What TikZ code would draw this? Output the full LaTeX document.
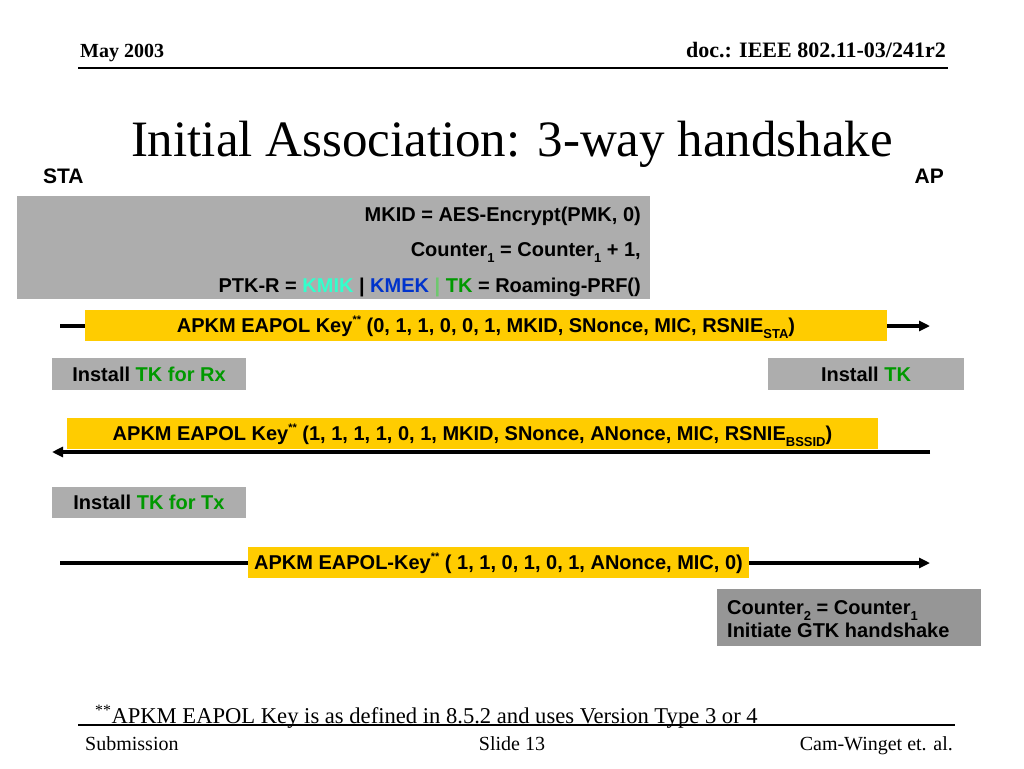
\documentclass[tikz,border=0pt]{standalone}
\usepackage{fontspec}
\setmainfont{Liberation Serif}
\newfontfamily\arialf{Liberation Sans}
\usetikzlibrary{arrows.meta}
\definecolor{boxgray}{RGB}{173,173,173}
\definecolor{darkbox}{RGB}{150,150,150}
\definecolor{gold}{RGB}{255,204,0}
\definecolor{kmik}{RGB}{51,255,204}
\definecolor{kmek}{RGB}{0,51,204}
\definecolor{tkgreen}{RGB}{0,153,0}
\definecolor{sepgreen}{RGB}{110,200,110}
\newcommand{\lowtxt}[1]{\raisebox{-0.3em}{\fontsize{13}{13}\selectfont #1}}
\newcommand{\hightxt}[1]{\raisebox{0.45em}{\fontsize{11}{11}\selectfont #1}}
\tikzset{
  body/.style={font=\arialf\bfseries\fontsize{20}{22}\selectfont, inner sep=0pt},
  goldbox/.style={body, fill=gold, text height=14pt, text depth=0pt},
  graybox/.style={body, fill=boxgray, text height=14pt, text depth=0pt},
  darkgraybox/.style={fill=darkbox, inner sep=0pt},
  msg/.style={line width=3.2pt, -{Triangle[length=11pt,width=10pt]}},
  serifbold/.style={font=\bfseries\fontsize{20}{22}\selectfont, inner sep=0pt},
  footer/.style={font=\fontsize{20}{22}\selectfont, inner sep=0pt},
  rule/.style={line width=1.6pt},
}
\begin{document}
\begin{tikzpicture}[x=1pt,y=-1pt]
\useasboundingbox[fill=white] (0,0) rectangle (1024,768);
% header
\node[serifbold, anchor=base west] (date) at (80,58) {May 2003};
\node[serifbold, font=\bfseries\fontsize{22}{24}\selectfont, anchor=base east] (doc) at (946,58) {doc.: IEEE 802.11-03/241r2};
\coordinate (hl) at (78,68);
\coordinate (hr) at (948,68);
\draw[rule] (hl) -- (hr);
% title
\node[font=\fontsize{51}{56}\selectfont, anchor=base, inner sep=0pt] (title) at (512,156) {Initial Association: 3-way handshake};
\node[body, font=\arialf\bfseries\fontsize{21}{24}\selectfont, anchor=base west] (sta) at (43,183) {STA};
\node[body, font=\arialf\bfseries\fontsize{21}{24}\selectfont, anchor=base east] (ap) at (944,183) {AP};
% computation box
\node[fill=boxgray, minimum width=633pt, minimum height=103pt, inner sep=0pt] (calc) at (333.5,247.5) {};
\node[body, anchor=base east] (l1) at (641,221) {MKID = AES-Encrypt(PMK, 0)};
\node[body, anchor=base east] (l2) at (641,256) {Counter\lowtxt{1} = Counter\lowtxt{1} + 1,};
\node[body, anchor=base east] (l3) at (641,292) {PTK-R = \textcolor{kmik}{KMIK} | \textcolor{kmek}{KMEK} \textcolor{sepgreen}{|} \textcolor{tkgreen}{TK} = Roaming-PRF()};
% arrows
\coordinate (a1s) at (60,326);
\coordinate (a1e) at (930,326);
\coordinate (a2s) at (930,452);
\coordinate (a2e) at (52,452);
\coordinate (a3s) at (60,563);
\coordinate (a3e) at (930,563);
\draw[msg] (a1s) -- (a1e);
\draw[msg] (a2s) -- (a2e);
\draw[msg] (a3s) -- (a3e);
% messages
\node[goldbox, minimum width=802pt, minimum height=31pt] (m1) at (486,325.5) {APKM EAPOL Key\hightxt{**} (0, 1, 1, 0, 0, 1, MKID, SNonce, MIC, RSNIE\lowtxt{STA})};
\node[graybox, minimum width=194pt, minimum height=32pt] (rx) at (149,374) {Install \textcolor{tkgreen}{TK for Rx}};
\node[graybox, minimum width=196pt, minimum height=32pt] (aptk) at (866,374) {Install \textcolor{tkgreen}{TK}};
\node[goldbox, minimum width=811pt, minimum height=31pt] (m2) at (472.5,433.5) {APKM EAPOL Key\hightxt{**} (1, 1, 1, 1, 0, 1, MKID, SNonce, ANonce, MIC, RSNIE\lowtxt{BSSID})};
\node[graybox, minimum width=194pt, minimum height=31pt] (tx) at (149,502.5) {Install \textcolor{tkgreen}{TK for Tx}};
\node[goldbox, minimum width=501pt, minimum height=31pt] (m3) at (498.5,562.5) {APKM EAPOL-Key\hightxt{**} ( 1, 1, 0, 1, 0, 1, ANonce, MIC, 0)};
\node[darkgraybox, minimum width=264pt, minimum height=57pt] (cnt) at (849,617.5) {};
\node[body, anchor=base west] (c1) at (727,614) {Counter\lowtxt{2} = Counter\lowtxt{1}};
\node[body, anchor=base west] (c2) at (727,637) {Initiate GTK handshake};
% footnote and footer
\node[font=\fontsize{22.6}{24}\selectfont, anchor=base west, inner sep=0pt] (fn) at (95,723) {\textsuperscript{**}APKM EAPOL Key is as defined in 8.5.2 and uses Version Type 3 or 4};
\coordinate (fl) at (78,725);
\coordinate (fr) at (955,725);
\draw[line width=1.3pt] (fl) -- (fr);
\node[footer, anchor=base west] (sub) at (85,750) {Submission};
\node[footer, anchor=base] (slide) at (512,750) {Slide 13};
\node[footer, anchor=base east] (auth) at (953,750) {Cam-Winget et. al.};
\end{tikzpicture}
\end{document}
